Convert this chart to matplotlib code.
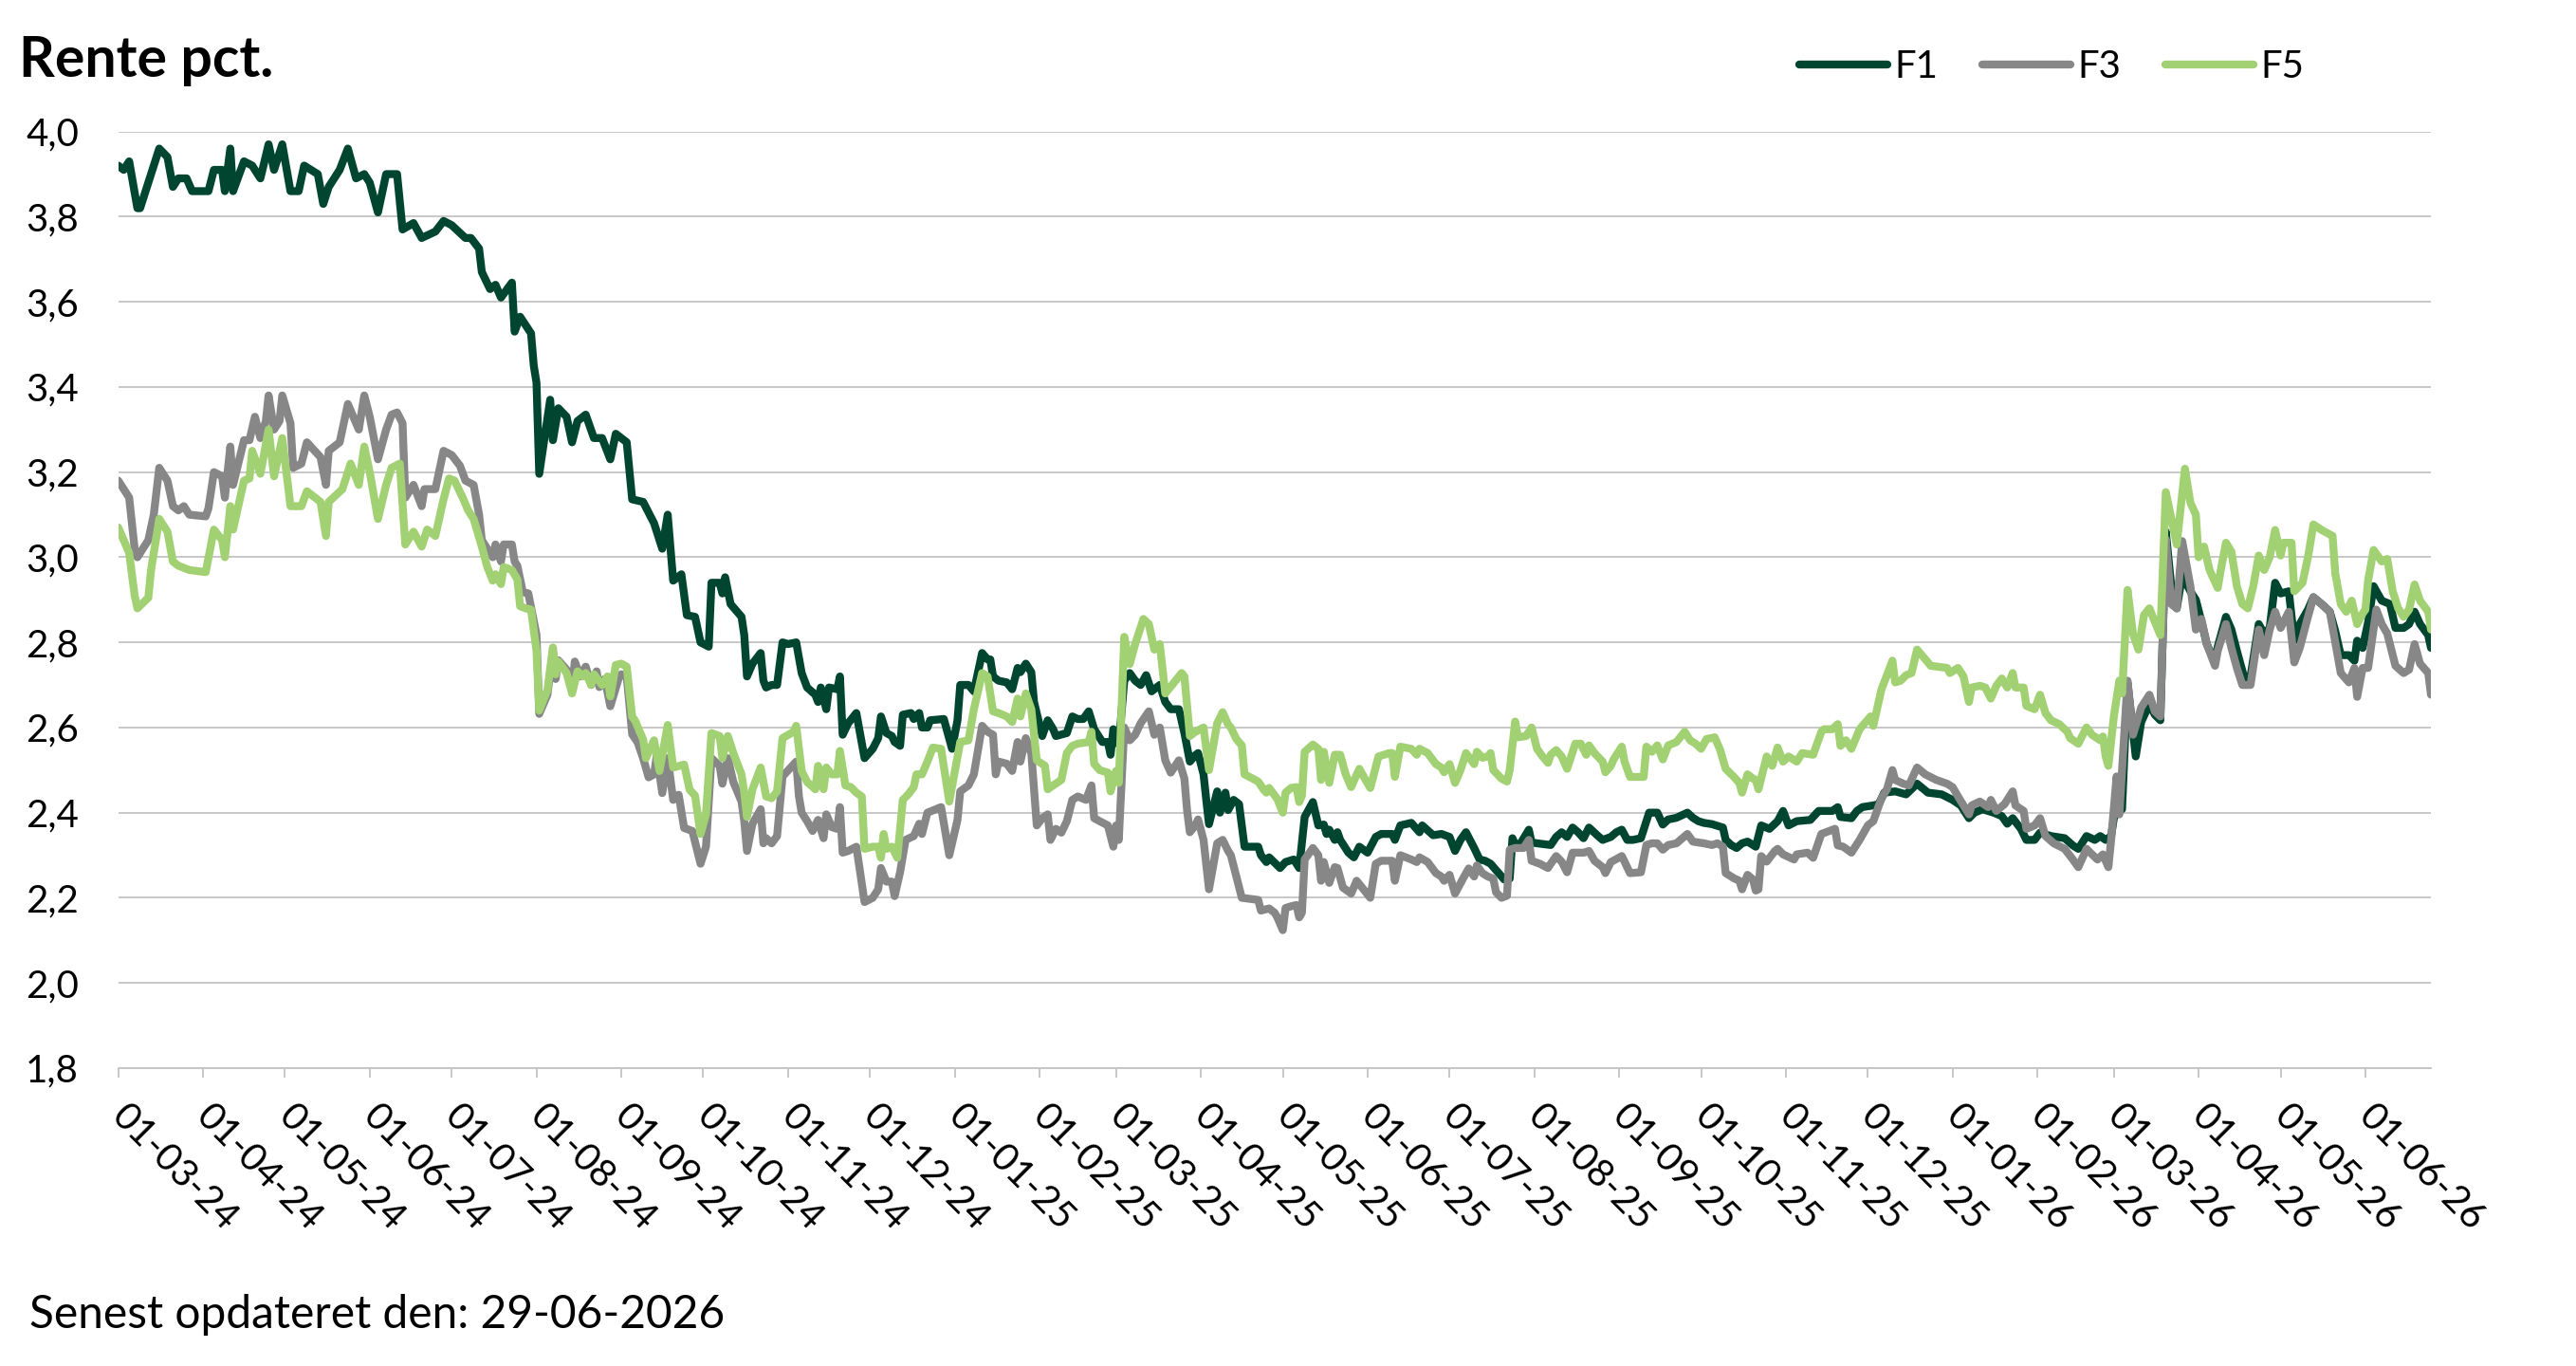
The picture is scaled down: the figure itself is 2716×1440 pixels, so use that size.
import numpy as np
import pandas as pd
import matplotlib
matplotlib.use("Agg")
import matplotlib.pyplot as plt
import matplotlib.dates as mdates
from matplotlib.ticker import FuncFormatter
from matplotlib.transforms import ScaledTranslation

plt.rcParams['font.family'] = ['Lato', 'DejaVu Sans']

# first day of the series and last day on the axis
start = pd.Timestamp('2024-03-01')
end = pd.Timestamp('2026-06-25')

# (days after 01-03-2024, rate in pct)
f1_points = [
    (0, 3.92), (2, 3.91), (4, 3.93), (7, 3.82), (8, 3.82), (11, 3.88), (15, 3.96), (18, 3.94),
    (20, 3.87), (22, 3.89), (25, 3.89), (27, 3.86), (33, 3.86), (35, 3.91), (38, 3.91), (39, 3.86),
    (41, 3.96), (42, 3.86), (46, 3.93), (49, 3.92), (52, 3.89), (55, 3.97), (57, 3.91), (60, 3.97),
    (63, 3.86), (66, 3.86), (68, 3.92), (73, 3.90), (75, 3.83), (77, 3.87), (81, 3.91), (84, 3.96),
    (87, 3.89), (90, 3.90), (92, 3.88), (95, 3.81), (98, 3.90), (102, 3.90), (104, 3.77), (108, 3.785),
    (111, 3.75), (116, 3.765), (119, 3.79), (122, 3.78), (127, 3.75), (129, 3.75), (132, 3.725),
    (133, 3.67), (136, 3.63), (138, 3.64), (140, 3.61), (144, 3.645), (145, 3.53), (147, 3.565),
    (151, 3.526), (152, 3.45), (153, 3.41), (154, 3.196), (158, 3.37), (159, 3.275), (161, 3.35),
    (164, 3.33), (166, 3.27), (168, 3.32), (171, 3.335), (174, 3.28), (177, 3.28), (180, 3.23),
    (182, 3.29), (186, 3.27), (188, 3.136), (192, 3.13), (196, 3.08), (199, 3.02), (201, 3.10),
    (203, 2.945), (206, 2.96), (208, 2.864), (211, 2.86), (213, 2.80), (216, 2.79), (217, 2.94),
    (220, 2.94), (221, 2.915), (222, 2.953), (224, 2.89), (228, 2.86), (229, 2.817), (230, 2.72),
    (232, 2.75), (235, 2.775), (236, 2.71), (237, 2.694), (239, 2.70), (241, 2.70), (243, 2.80),
    (245, 2.796), (248, 2.80), (250, 2.728), (252, 2.694), (255, 2.677), (256, 2.66), (257, 2.694),
    (259, 2.643), (260, 2.694), (263, 2.69), (264, 2.72), (265, 2.583), (267, 2.61), (270, 2.634),
    (273, 2.528), (276, 2.55), (278, 2.575), (279, 2.626), (281, 2.587), (283, 2.58), (284, 2.566),
    (286, 2.557), (287, 2.63), (290, 2.634), (291, 2.62), (293, 2.634), (294, 2.60), (296, 2.60),
    (297, 2.617), (302, 2.62), (305, 2.55), (307, 2.617), (308, 2.70), (311, 2.70), (313, 2.685),
    (316, 2.775), (318, 2.76), (319, 2.76), (320, 2.72), (322, 2.71), (325, 2.706), (327, 2.69),
    (329, 2.74), (330, 2.73), (332, 2.75), (334, 2.73), (335, 2.66), (338, 2.58), (340, 2.617),
    (342, 2.596), (343, 2.58), (347, 2.587), (349, 2.626), (351, 2.62), (353, 2.62), (355, 2.638),
    (357, 2.596), (360, 2.566), (362, 2.566), (363, 2.536), (364, 2.596), (366, 2.56), (368, 2.71),
    (370, 2.728), (372, 2.71), (374, 2.70), (376, 2.723), (378, 2.685), (381, 2.70), (383, 2.66),
    (385, 2.643), (388, 2.643), (390, 2.587), (392, 2.52), (394, 2.535), (395, 2.54), (397, 2.49),
    (398, 2.43), (399, 2.373), (402, 2.45), (403, 2.40), (405, 2.447), (406, 2.406), (408, 2.43),
    (410, 2.42), (412, 2.32), (417, 2.32), (418, 2.30), (420, 2.284), (421, 2.295), (425, 2.27),
    (427, 2.284), (430, 2.29), (432, 2.27), (434, 2.39), (437, 2.425), (439, 2.37), (441, 2.372),
    (442, 2.35), (443, 2.36), (445, 2.336), (446, 2.354), (447, 2.336), (450, 2.306), (452, 2.295),
    (454, 2.32), (457, 2.306), (460, 2.343), (462, 2.35), (466, 2.35), (467, 2.336), (469, 2.37),
    (473, 2.376), (476, 2.354), (477, 2.37), (481, 2.347), (484, 2.35), (487, 2.343), (489, 2.31),
    (491, 2.336), (493, 2.354), (496, 2.317), (498, 2.29), (500, 2.287), (502, 2.28), (504, 2.265),
    (507, 2.243), (509, 2.245), (510, 2.34), (511, 2.325), (513, 2.328), (516, 2.36), (517, 2.33),
    (519, 2.328), (524, 2.324), (526, 2.343), (528, 2.354), (530, 2.343), (532, 2.365), (534, 2.354),
    (536, 2.34), (538, 2.365), (541, 2.347), (543, 2.336), (546, 2.343), (548, 2.354), (550, 2.36),
    (552, 2.336), (554, 2.336), (557, 2.34), (560, 2.40), (563, 2.40), (565, 2.372), (567, 2.384),
    (570, 2.388), (574, 2.40), (576, 2.388), (578, 2.38), (580, 2.376), (583, 2.373), (587, 2.365),
    (588, 2.336), (590, 2.324), (592, 2.317), (594, 2.328), (596, 2.332), (599, 2.32), (601, 2.37),
    (604, 2.362), (607, 2.38), (609, 2.404), (611, 2.37), (614, 2.38), (619, 2.383), (622, 2.404),
    (627, 2.404), (629, 2.413), (630, 2.39), (634, 2.387), (636, 2.404), (638, 2.413), (642, 2.417),
    (644, 2.42), (646, 2.447), (650, 2.45), (654, 2.443), (658, 2.468), (662, 2.447), (667, 2.443),
    (671, 2.43), (674, 2.417), (677, 2.387), (679, 2.40), (682, 2.408), (686, 2.40), (689, 2.392),
    (691, 2.374), (693, 2.387), (696, 2.362), (698, 2.336), (701, 2.336), (703, 2.353), (707, 2.345),
    (712, 2.34), (715, 2.323), (717, 2.315), (720, 2.345), (723, 2.336), (725, 2.345), (727, 2.336),
    (729, 2.345), (730, 2.387), (732, 2.42), (733, 2.408), (735, 2.706), (738, 2.532), (740, 2.613),
    (743, 2.655), (745, 2.63), (747, 2.617), (749, 3.06), (751, 2.932), (753, 2.88), (755, 2.957),
    (758, 2.92), (760, 2.90), (762, 2.85), (764, 2.796), (767, 2.753), (768, 2.79), (771, 2.86),
    (773, 2.83), (775, 2.78), (778, 2.71), (780, 2.72), (783, 2.843), (785, 2.82), (787, 2.834),
    (789, 2.94), (791, 2.915), (794, 2.92), (796, 2.804), (798, 2.843), (801, 2.877), (803, 2.906),
    (806, 2.89), (809, 2.872), (811, 2.826), (813, 2.77), (816, 2.77), (818, 2.757), (819, 2.804),
    (821, 2.787), (823, 2.847), (825, 2.932), (828, 2.898), (831, 2.89), (833, 2.834), (836, 2.834),
    (838, 2.843), (840, 2.872), (842, 2.843), (845, 2.817), (846, 2.787),
]

f3_points = [
    (0, 3.18), (4, 3.14), (6, 3.02), (7, 3.00), (11, 3.04), (13, 3.10), (15, 3.21), (18, 3.18),
    (20, 3.12), (22, 3.11), (24, 3.12), (26, 3.10), (32, 3.096), (33, 3.115), (35, 3.20), (38, 3.19),
    (39, 3.14), (41, 3.26), (42, 3.17), (46, 3.275), (48, 3.275), (50, 3.33), (52, 3.28), (54, 3.32),
    (55, 3.38), (57, 3.30), (59, 3.32), (60, 3.38), (63, 3.315), (64, 3.21), (67, 3.22), (69, 3.27),
    (74, 3.235), (76, 3.17), (77, 3.25), (81, 3.27), (84, 3.36), (88, 3.30), (90, 3.38), (92, 3.33),
    (95, 3.23), (98, 3.30), (100, 3.335), (102, 3.34), (104, 3.315), (105, 3.14), (108, 3.17),
    (111, 3.12), (112, 3.16), (116, 3.16), (119, 3.25), (122, 3.24), (125, 3.215), (127, 3.18),
    (130, 3.17), (132, 3.10), (133, 3.04), (137, 3.00), (138, 3.03), (140, 2.99), (141, 3.03),
    (144, 3.03), (145, 2.99), (146, 2.98), (148, 2.918), (150, 2.915), (153, 2.818), (154, 2.632),
    (157, 2.677), (159, 2.78), (160, 2.714), (161, 2.758), (164, 2.736), (166, 2.688), (167, 2.755),
    (169, 2.72), (171, 2.743), (173, 2.70), (175, 2.732), (176, 2.695), (178, 2.714), (180, 2.65),
    (183, 2.714), (184, 2.725), (186, 2.72), (188, 2.584), (190, 2.565), (192, 2.528), (194, 2.483),
    (196, 2.49), (197, 2.535), (199, 2.446), (201, 2.528), (203, 2.43), (205, 2.442), (207, 2.364),
    (210, 2.357), (212, 2.305), (213, 2.28), (215, 2.32), (217, 2.528), (220, 2.51), (221, 2.468),
    (223, 2.528), (225, 2.472), (228, 2.426), (229, 2.38), (230, 2.31), (232, 2.374), (235, 2.408),
    (236, 2.328), (237, 2.34), (239, 2.328), (241, 2.345), (243, 2.485), (246, 2.506), (248, 2.52),
    (249, 2.438), (250, 2.40), (252, 2.38), (254, 2.357), (256, 2.383), (258, 2.34), (259, 2.396),
    (261, 2.366), (263, 2.362), (264, 2.413), (265, 2.306), (267, 2.31), (270, 2.32), (273, 2.19),
    (276, 2.20), (278, 2.22), (279, 2.27), (281, 2.238), (283, 2.238), (284, 2.204), (286, 2.26),
    (288, 2.336), (291, 2.345), (293, 2.374), (294, 2.35), (296, 2.40), (301, 2.413), (304, 2.30),
    (307, 2.383), (308, 2.45), (311, 2.464), (313, 2.49), (316, 2.604), (318, 2.59), (320, 2.583),
    (321, 2.49), (322, 2.52), (325, 2.515), (327, 2.498), (329, 2.566), (330, 2.52), (332, 2.575),
    (334, 2.54), (336, 2.37), (338, 2.387), (340, 2.396), (341, 2.336), (343, 2.362), (345, 2.353),
    (347, 2.38), (349, 2.43), (351, 2.438), (354, 2.43), (356, 2.464), (357, 2.387), (359, 2.38),
    (362, 2.37), (364, 2.32), (365, 2.37), (366, 2.336), (368, 2.60), (370, 2.57), (372, 2.583),
    (374, 2.61), (377, 2.638), (379, 2.583), (381, 2.60), (383, 2.523), (385, 2.494), (388, 2.523),
    (390, 2.48), (391, 2.404), (392, 2.354), (394, 2.37), (395, 2.384), (397, 2.336), (399, 2.22),
    (402, 2.328), (404, 2.336), (406, 2.31), (407, 2.30), (411, 2.20), (417, 2.195), (418, 2.17),
    (421, 2.175), (423, 2.165), (424, 2.154), (426, 2.124), (427, 2.176), (429, 2.18), (431, 2.183),
    (432, 2.154), (433, 2.165), (434, 2.29), (437, 2.317), (439, 2.30), (440, 2.24), (441, 2.284),
    (443, 2.235), (445, 2.272), (446, 2.27), (448, 2.224), (451, 2.21), (453, 2.24), (455, 2.224),
    (458, 2.20), (460, 2.28), (462, 2.287), (466, 2.287), (467, 2.24), (469, 2.30), (473, 2.29),
    (475, 2.284), (476, 2.295), (479, 2.284), (482, 2.258), (484, 2.25), (485, 2.24), (487, 2.254),
    (489, 2.21), (492, 2.246), (494, 2.269), (496, 2.25), (497, 2.276), (499, 2.258), (501, 2.25),
    (503, 2.245), (504, 2.213), (506, 2.20), (508, 2.205), (509, 2.313), (511, 2.317), (514, 2.317),
    (516, 2.336), (517, 2.287), (520, 2.28), (523, 2.27), (524, 2.28), (526, 2.298), (528, 2.285),
    (530, 2.26), (532, 2.306), (536, 2.306), (538, 2.31), (540, 2.287), (543, 2.272), (544, 2.258),
    (546, 2.284), (550, 2.298), (551, 2.285), (553, 2.258), (557, 2.26), (559, 2.324), (561, 2.328),
    (563, 2.328), (565, 2.313), (567, 2.324), (570, 2.328), (574, 2.35), (576, 2.332), (580, 2.328),
    (583, 2.324), (585, 2.328), (587, 2.32), (588, 2.258), (591, 2.246), (593, 2.24), (594, 2.22),
    (596, 2.254), (598, 2.243), (599, 2.217), (600, 2.22), (601, 2.298), (603, 2.285), (606, 2.31),
    (607, 2.315), (609, 2.302), (613, 2.29), (614, 2.302), (618, 2.306), (620, 2.294), (623, 2.35),
    (628, 2.362), (629, 2.323), (631, 2.32), (634, 2.306), (637, 2.336), (640, 2.37), (642, 2.38),
    (645, 2.434), (647, 2.455), (649, 2.50), (650, 2.477), (653, 2.468), (655, 2.464), (658, 2.506),
    (661, 2.49), (665, 2.477), (669, 2.468), (671, 2.46), (673, 2.438), (677, 2.396), (678, 2.417),
    (681, 2.426), (684, 2.413), (685, 2.43), (687, 2.404), (690, 2.42), (693, 2.45), (694, 2.417),
    (697, 2.404), (698, 2.362), (701, 2.37), (703, 2.387), (705, 2.345), (708, 2.328), (712, 2.315),
    (715, 2.29), (717, 2.272), (720, 2.315), (722, 2.302), (724, 2.29), (726, 2.302), (728, 2.272),
    (729, 2.336), (731, 2.485), (732, 2.396), (735, 2.71), (737, 2.583), (740, 2.647), (743, 2.677),
    (745, 2.638), (747, 2.626), (749, 3.043), (751, 2.89), (753, 2.88), (755, 3.038), (758, 2.932),
    (760, 2.83), (762, 2.855), (764, 2.796), (767, 2.745), (768, 2.78), (771, 2.843), (773, 2.787),
    (775, 2.74), (777, 2.70), (780, 2.70), (783, 2.83), (785, 2.77), (787, 2.83), (789, 2.872),
    (791, 2.834), (794, 2.872), (796, 2.753), (798, 2.787), (801, 2.86), (803, 2.906), (806, 2.89),
    (809, 2.872), (811, 2.80), (813, 2.728), (816, 2.706), (818, 2.74), (819, 2.672), (821, 2.74),
    (823, 2.74), (826, 2.877), (828, 2.843), (830, 2.821), (833, 2.745), (836, 2.728), (838, 2.736),
    (840, 2.796), (842, 2.75), (845, 2.728), (846, 2.677),
]

f5_points = [
    (0, 3.07), (4, 3.01), (6, 2.91), (7, 2.88), (11, 2.905), (12, 2.97), (15, 3.09), (18, 3.06),
    (20, 2.99), (22, 2.98), (26, 2.97), (32, 2.965), (35, 3.065), (38, 3.04), (39, 3.00), (41, 3.12),
    (42, 3.065), (46, 3.18), (48, 3.185), (49, 3.25), (52, 3.196), (55, 3.30), (57, 3.19), (60, 3.28),
    (63, 3.12), (67, 3.12), (69, 3.155), (74, 3.13), (76, 3.05), (77, 3.13), (82, 3.16), (85, 3.22),
    (88, 3.17), (90, 3.26), (92, 3.20), (95, 3.09), (98, 3.17), (100, 3.21), (103, 3.22), (105, 3.03),
    (108, 3.06), (111, 3.025), (113, 3.065), (116, 3.05), (119, 3.136), (121, 3.185), (123, 3.18),
    (126, 3.14), (128, 3.11), (130, 3.09), (133, 3.025), (135, 2.977), (137, 2.945), (138, 2.96),
    (140, 2.937), (141, 2.977), (144, 2.97), (146, 2.948), (147, 2.885), (149, 2.88), (151, 2.877),
    (153, 2.78), (154, 2.64), (157, 2.688), (159, 2.788), (160, 2.725), (161, 2.755), (164, 2.728),
    (166, 2.68), (168, 2.732), (170, 2.72), (171, 2.728), (173, 2.70), (174, 2.725), (177, 2.70),
    (179, 2.72), (180, 2.673), (182, 2.747), (184, 2.75), (186, 2.743), (188, 2.625), (189, 2.617),
    (192, 2.572), (193, 2.528), (196, 2.57), (198, 2.498), (201, 2.606), (203, 2.506), (207, 2.513),
    (209, 2.454), (211, 2.44), (213, 2.35), (215, 2.396), (217, 2.587), (220, 2.58), (221, 2.528),
    (223, 2.58), (225, 2.54), (228, 2.49), (229, 2.447), (230, 2.39), (232, 2.455), (235, 2.506),
    (237, 2.438), (239, 2.434), (241, 2.45), (243, 2.575), (247, 2.59), (248, 2.604), (250, 2.498),
    (252, 2.472), (255, 2.455), (256, 2.51), (258, 2.455), (259, 2.506), (261, 2.49), (263, 2.49),
    (264, 2.545), (266, 2.464), (268, 2.46), (270, 2.447), (272, 2.438), (273, 2.315), (276, 2.32),
    (278, 2.32), (279, 2.294), (280, 2.35), (281, 2.315), (283, 2.32), (285, 2.294), (287, 2.43),
    (289, 2.443), (291, 2.46), (292, 2.49), (294, 2.49), (296, 2.52), (298, 2.553), (301, 2.55),
    (304, 2.426), (308, 2.566), (311, 2.57), (313, 2.643), (316, 2.728), (318, 2.72), (320, 2.638),
    (322, 2.634), (325, 2.626), (327, 2.613), (329, 2.668), (330, 2.626), (332, 2.68), (334, 2.643),
    (336, 2.523), (339, 2.51), (340, 2.455), (342, 2.464), (345, 2.477), (347, 2.54), (349, 2.557),
    (351, 2.562), (355, 2.566), (356, 2.59), (357, 2.515), (359, 2.50), (362, 2.494), (363, 2.45),
    (365, 2.498), (366, 2.47), (368, 2.813), (370, 2.749), (372, 2.796), (375, 2.855), (377, 2.843),
    (379, 2.783), (381, 2.796), (383, 2.68), (389, 2.728), (390, 2.72), (392, 2.58), (394, 2.59),
    (397, 2.60), (399, 2.50), (402, 2.61), (404, 2.636), (406, 2.607), (407, 2.60), (409, 2.573),
    (411, 2.558), (412, 2.49), (415, 2.48), (417, 2.473), (419, 2.454), (420, 2.447), (421, 2.458),
    (424, 2.432), (426, 2.40), (427, 2.447), (429, 2.458), (431, 2.46), (432, 2.425), (433, 2.44),
    (434, 2.543), (437, 2.56), (439, 2.55), (440, 2.477), (441, 2.543), (443, 2.47), (445, 2.536),
    (447, 2.536), (449, 2.49), (451, 2.46), (454, 2.503), (456, 2.48), (458, 2.458), (461, 2.532),
    (465, 2.54), (466, 2.54), (467, 2.484), (469, 2.555), (473, 2.55), (475, 2.536), (476, 2.55),
    (479, 2.54), (482, 2.514), (484, 2.506), (485, 2.495), (487, 2.514), (489, 2.47), (491, 2.50),
    (493, 2.54), (496, 2.514), (497, 2.543), (499, 2.529), (501, 2.532), (502, 2.54), (503, 2.50),
    (506, 2.48), (508, 2.473), (509, 2.50), (511, 2.614), (512, 2.577), (515, 2.58), (517, 2.60),
    (519, 2.55), (521, 2.532), (523, 2.517), (524, 2.536), (526, 2.547), (528, 2.532), (530, 2.503),
    (533, 2.562), (535, 2.562), (537, 2.536), (538, 2.558), (540, 2.54), (543, 2.52), (544, 2.495),
    (546, 2.51), (547, 2.525), (550, 2.555), (551, 2.52), (553, 2.484), (558, 2.484), (559, 2.555),
    (561, 2.543), (563, 2.558), (565, 2.525), (567, 2.558), (570, 2.566), (573, 2.59), (575, 2.57),
    (577, 2.562), (579, 2.55), (581, 2.573), (584, 2.577), (586, 2.547), (588, 2.503), (591, 2.484),
    (593, 2.47), (594, 2.447), (596, 2.49), (598, 2.48), (599, 2.477), (600, 2.455), (603, 2.532),
    (605, 2.51), (607, 2.553), (609, 2.52), (611, 2.532), (614, 2.52), (616, 2.54), (620, 2.536),
    (623, 2.59), (624, 2.596), (627, 2.596), (629, 2.608), (630, 2.557), (632, 2.57), (634, 2.55),
    (637, 2.596), (641, 2.626), (642, 2.604), (645, 2.69), (647, 2.723), (649, 2.757), (650, 2.706),
    (652, 2.71), (654, 2.723), (656, 2.728), (658, 2.783), (662, 2.753), (663, 2.745), (669, 2.74),
    (670, 2.728), (673, 2.74), (675, 2.72), (677, 2.66), (678, 2.694), (681, 2.698), (683, 2.694),
    (685, 2.668), (687, 2.698), (689, 2.715), (691, 2.694), (693, 2.728), (694, 2.694), (697, 2.694),
    (698, 2.651), (701, 2.643), (703, 2.677), (705, 2.634), (707, 2.617), (710, 2.608), (713, 2.59),
    (714, 2.575), (717, 2.562), (720, 2.60), (722, 2.583), (725, 2.57), (726, 2.579), (727, 2.532),
    (728, 2.51), (730, 2.626), (732, 2.71), (733, 2.68), (735, 2.923), (737, 2.82), (739, 2.783),
    (741, 2.864), (743, 2.88), (744, 2.864), (747, 2.817), (749, 3.153), (752, 3.06), (753, 3.03),
    (756, 3.208), (758, 3.128), (760, 3.10), (761, 3.0), (763, 3.025), (765, 2.97), (768, 2.928),
    (769, 2.966), (771, 3.034), (773, 3.013), (775, 2.932), (777, 2.89), (779, 2.88), (781, 2.932),
    (783, 3.004), (785, 2.97), (787, 3.0), (789, 3.064), (791, 3.004), (792, 3.034), (795, 3.034),
    (796, 2.92), (799, 2.94), (801, 3.0), (803, 3.077), (806, 3.064), (810, 3.05), (811, 2.962),
    (813, 2.89), (815, 2.872), (817, 2.898), (819, 2.843), (821, 2.868), (822, 2.877), (823, 2.945),
    (825, 3.017), (828, 2.99), (830, 2.996), (832, 2.92), (834, 2.88), (836, 2.86), (838, 2.877),
    (840, 2.936), (842, 2.898), (845, 2.872), (846, 2.83),
]

series_names = ['F1', 'F3', 'F5']
series_colors = ['#00452F', '#878787', '#A2D173']
y_ticks = [1.8, 2.0, 2.2, 2.4, 2.6, 2.8, 3.0, 3.2, 3.4, 3.6, 3.8, 4.0]

grid_color = '#C4C4C4'
fs = 29

fig = plt.figure(figsize=(27.16, 14.4), dpi=100)
ax = fig.add_axes([0.0459, 0.2181, 0.8978, 0.6856])

for pts, name, color in zip([f1_points, f3_points, f5_points], series_names, series_colors):
    days, rates = zip(*pts)
    dates = start + pd.to_timedelta(list(days), unit='D')
    ax.plot(dates, rates, color=color, lw=6, label=name,
            solid_joinstyle='round', solid_capstyle='round')

ax.set_xlim(start, end)
ax.set_ylim(1.8, 4.0)
ax.set_yticks(y_ticks)
ax.yaxis.set_major_formatter(FuncFormatter(lambda v, p: f'{v:.1f}'.replace('.', ',')))
ax.grid(axis='y', color=grid_color, lw=1.3)
ax.set_axisbelow(True)

for side in ['top', 'right', 'left']:
    ax.spines[side].set_visible(False)
ax.spines['bottom'].set_color(grid_color)
ax.spines['bottom'].set_linewidth(1.3)

ax.xaxis.set_major_locator(mdates.MonthLocator(bymonthday=1))
ax.xaxis.set_major_formatter(mdates.DateFormatter('%d-%m-%y'))
ax.tick_params(axis='y', length=0, pad=30, labelsize=fs)
ax.tick_params(axis='x', length=7, width=1.3, color=grid_color, pad=16, labelsize=fs)

# labels run down to the right from each tick, like the original
shift = ScaledTranslation(0.12, 0, fig.dpi_scale_trans)
for lab in ax.get_xticklabels():
    lab.set_rotation(-45)
    lab.set_ha('left')
    lab.set_va('top')
    lab.set_rotation_mode('anchor')
    lab.set_transform(lab.get_transform() + shift)

fig.text(0.0075, 0.9437, 'Rente pct.', fontsize=42.5, fontweight='bold', ha='left', va='baseline')
fig.text(0.0115, 0.028, 'Senest opdateret den: 29-06-2026', fontsize=34.5, ha='left', va='baseline')

handles, labels = ax.get_legend_handles_labels()
fig.legend(handles, labels, loc='center left', bbox_to_anchor=(0.6985, 0.9507), ncol=3,
           frameon=False, fontsize=fs, handlelength=2.3, handletextpad=0.2,
           columnspacing=1.15, borderpad=0, borderaxespad=0)

fig.savefig('out.png', dpi=100)
